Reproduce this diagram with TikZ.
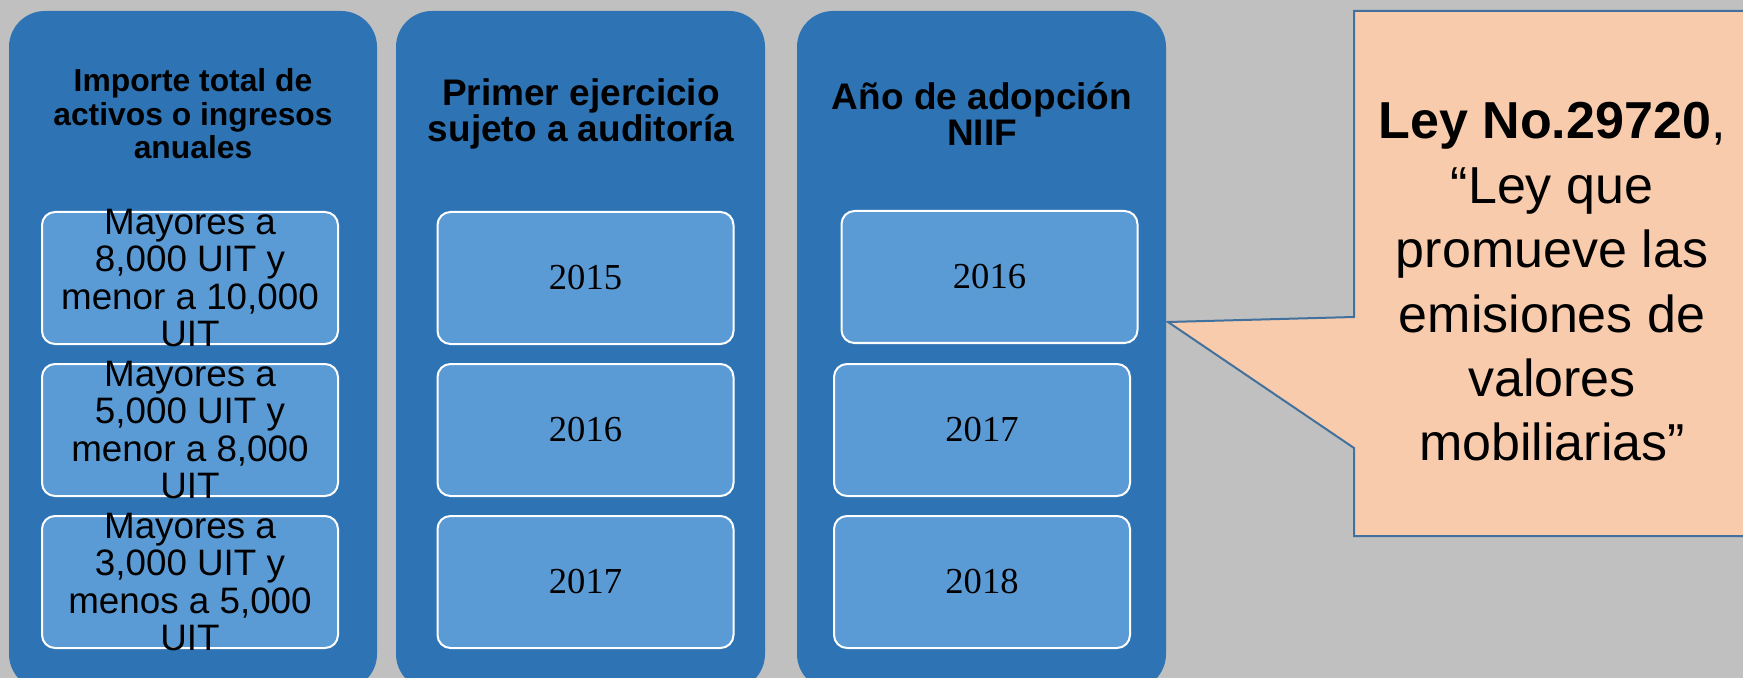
\documentclass[tikz,border=0pt]{standalone}
\usepackage{fontspec}
\setmainfont{Liberation Sans}
\newfontfamily\yearfont{Liberation Serif}
\usetikzlibrary{calc}

\definecolor{bgGray}{HTML}{C0C0C0}
\definecolor{panelBlue}{HTML}{2E74B5}
\definecolor{cellBlue}{HTML}{5B9BD5}
\definecolor{calloutFill}{HTML}{F8CBAD}
\definecolor{calloutLine}{HTML}{41719C}

\begin{document}
\begin{tikzpicture}[x=0.5pt, y=-0.5pt,
    panel/.style={fill=panelBlue, rounded corners=18pt},
    cell/.style={draw=white, line width=1pt, fill=cellBlue, rounded corners=6.5pt,
                 minimum width=148pt, minimum height=66pt, inner sep=0pt},
    celltext/.style={align=center, inner sep=0pt, font=\fontsize{18.4}{18.8}\selectfont},
    yeartext/.style={inner sep=0pt, font=\yearfont\fontsize{18.3}{20}\selectfont},
    headsmall/.style={align=center, inner sep=0pt, font=\bfseries\fontsize{15.9}{16.8}\selectfont},
    headbig/.style={align=center, inner sep=0pt, font=\bfseries\fontsize{18.5}{18}\selectfont}]

    % page and background
    \useasboundingbox (0,0) rectangle (1743,678);
    \clip (0,0) rectangle (1743,678);
    \fill[bgGray] (0,0) rectangle (1743,678);

    % the three column panels
    \fill[panel] (9,11) rectangle (377,690);
    \fill[panel] (396,11) rectangle (765,690);
    \fill[panel] (797,11) rectangle (1166,690);

    % column headers
    \node[headsmall] (headA) at (193,114) {Importe total de\\activos o ingresos\\anuales};
    \node[headbig] (headB) at (581,114) {Primer ejercicio\\sujeto a auditoría};
    \node[headbig] (headC) at (982,114) {Año de adopción\\NIIF};

    % first column: ranges
    \node[cell] (rangeA) at (190,278) {};
    \node[cell] (rangeB) at (190,430) {};
    \node[cell] (rangeC) at (190,582) {};
    \node[celltext] (rangeAtxt) at (rangeA) {Mayores a\\8,000 UIT y\\menor a 10,000\\UIT};
    \node[celltext] (rangeBtxt) at (rangeB) {Mayores a\\5,000 UIT y\\menor a 8,000\\UIT};
    \node[celltext] (rangeCtxt) at (rangeC) {Mayores a\\3,000 UIT y\\menos a 5,000\\UIT};

    % second column: audit years
    \node[cell] (auditA) at (585.5,278) {};
    \node[cell] (auditB) at (585.5,430) {};
    \node[cell] (auditC) at (585.5,582) {};
    \node[yeartext] (auditAtxt) at (auditA) {2015};
    \node[yeartext] (auditBtxt) at (auditB) {2016};
    \node[yeartext] (auditCtxt) at (auditC) {2017};

    % third column: adoption years
    \node[cell] (niifA) at (989.5,277) {};
    \node[cell] (niifB) at (982,430) {};
    \node[cell] (niifC) at (982,582) {};
    \node[yeartext] (niifAtxt) at (niifA) {2016};
    \node[yeartext] (niifBtxt) at (niifB) {2017};
    \node[yeartext] (niifCtxt) at (niifC) {2018};

    % callout shape
    \coordinate (CalTL) at (1354,11);
    \coordinate (CalTR) at (1760,11);
    \coordinate (CalBR) at (1760,536);
    \coordinate (CalBL) at (1354,536);
    \coordinate (TailLow) at (1354,448);
    \coordinate (TailTip) at (1168,322);
    \coordinate (TailHigh) at (1354,317);
    \draw[calloutLine, fill=calloutFill, line width=1pt]
        (CalTL)--(CalTR)--(CalBR)--(CalBL)--(TailLow)--(TailTip)--(TailHigh)--cycle;

    \node[align=center, inner sep=0pt, font=\fontsize{26}{32.2}\selectfont] (lawtxt) at (1552,282)
        {{\bfseries Ley No.29720},\\“Ley que\\promueve las\\emisiones de\\valores\\mobiliarias”};

\end{tikzpicture}
\end{document}
